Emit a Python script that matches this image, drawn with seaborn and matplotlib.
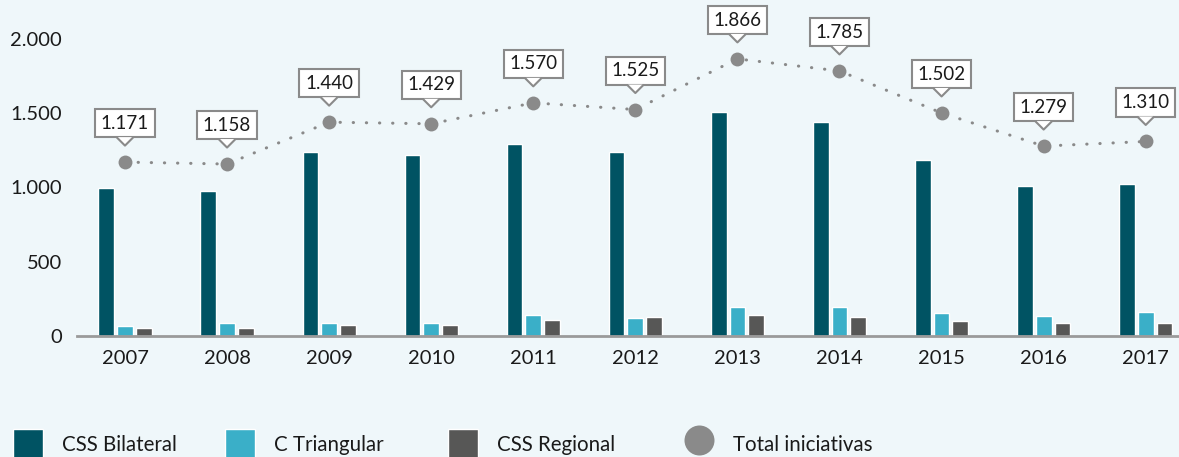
import numpy as np
import pandas as pd
import matplotlib
matplotlib.use("Agg")
import matplotlib.pyplot as plt
import matplotlib.transforms as mtransforms
from matplotlib.patches import Patch, Polygon
from matplotlib.lines import Line2D
import seaborn as sns

years = ["2007", "2008", "2009", "2010", "2011", "2012", "2013", "2014", "2015", "2016", "2017"]
bilateral = [1000, 978, 1240, 1220, 1294, 1240, 1508, 1441, 1186, 1010, 1022]
triangular = [70, 86, 86, 86, 141, 121, 197, 197, 157, 137, 160]
regional = [54, 54, 72, 73, 108, 126, 144, 126, 103, 86, 86]
totals = [1171, 1158, 1440, 1429, 1570, 1525, 1866, 1785, 1502, 1279, 1310]
series_names = ["CSS Bilateral", "C Triangular", "CSS Regional"]
total_name = "Total iniciativas"
yticks = [0, 500, 1000, 1500, 2000]

BG = "#EFF7FA"
C_BIL = "#005363"
C_TRI = "#3AAFC8"
C_REG = "#575756"
C_TOT = "#8A8A8A"
TXT = "#1A1A1A"

sns.set_theme(style="white")
plt.rcParams["font.family"] = ["Lato", "DejaVu Sans"]

df = pd.DataFrame({
    "year": years * 3,
    "value": bilateral + triangular + regional,
    "serie": [series_names[0]] * 11 + [series_names[1]] * 11 + [series_names[2]] * 11,
})

W, H = 1179, 457
fig = plt.figure(figsize=(W / 100, H / 100), dpi=100, facecolor=BG)
ax = fig.add_axes([77 / W, (H - 336) / H, (W - 77) / W, 297 / H])
ax.set_facecolor(BG)

sns.barplot(data=df, x="year", y="value", hue="serie",
            palette=[C_BIL, C_TRI, C_REG], width=0.55, gap=0.16,
            legend=False, ax=ax, saturation=1, zorder=2)

sns.pointplot(x=years, y=totals, color=C_TOT, markers="o", markersize=10,
              linestyles=":", ax=ax, zorder=4)
for ln in ax.lines:
    ln.set_linestyle((0, (0.1, 4.2)))
    ln.set_linewidth(2.2)
    ln.set_dash_capstyle("round")
    ln.set_markeredgewidth(0)
    ln.set_clip_on(False)

ax.set_xlim(-0.47, 10.326)
ax.set_ylim(0, 2000)
ax.set_yticks(yticks)
ax.set_yticklabels([f"{v:,}".replace(",", ".") for v in yticks])
ax.tick_params(axis="both", length=0, labelsize=14.5, colors=TXT)
ax.tick_params(axis="y", pad=11)
ax.tick_params(axis="x", pad=10)
ax.set_xlabel("")
ax.set_ylabel("")
for s in ["top", "right", "left"]:
    ax.spines[s].set_visible(False)
ax.spines["bottom"].set_color("#9A9A9A")
ax.spines["bottom"].set_linewidth(2)
ax.spines["bottom"].set_zorder(3)

# callout labels
for i, v in enumerate(totals):
    lab = f"{v:,}".replace(",", ".")
    ax.annotate(lab, xy=(i, v), xytext=(0, 28.0), textcoords="offset points",
                ha="center", va="center", fontsize=13.5, color=TXT,
                bbox=dict(boxstyle="square,pad=0.3", fc="white", ec=C_TOT, lw=1.5),
                zorder=6, annotation_clip=False)
    tr = fig.dpi_scale_trans + mtransforms.ScaledTranslation(i, v, ax.transData)
    tri = Polygon([(-0.075, 0.25), (0.075, 0.25), (0, 0.165)], closed=True,
                  fc="white", ec="none", transform=tr, zorder=7, clip_on=False)
    fig.add_artist(tri)
    edge = Line2D([-0.08, 0, 0.08], [0.245, 0.165, 0.245], color=C_TOT, lw=1.5,
                  transform=tr, zorder=7, clip_on=False)
    fig.add_artist(edge)

# legend items
handles = [Patch(facecolor=C_BIL), Patch(facecolor=C_TRI), Patch(facecolor=C_REG),
           Line2D([], [], marker="o", ms=21.6, color=C_TOT, linestyle="None", mew=0)]
labels = series_names + [total_name]
xs = [13, 225, 448, 684]
for h, l, x in zip(handles, labels, xs):
    fig.legend([h], [l], loc="center left", bbox_to_anchor=(x / W, 1 - 444 / H),
               frameon=False, fontsize=14.8, handlelength=1.46, handleheight=1.86,
               handletextpad=0.92, borderpad=0, borderaxespad=0, labelcolor=TXT)

fig.savefig("out.png", dpi=100, facecolor=BG)
